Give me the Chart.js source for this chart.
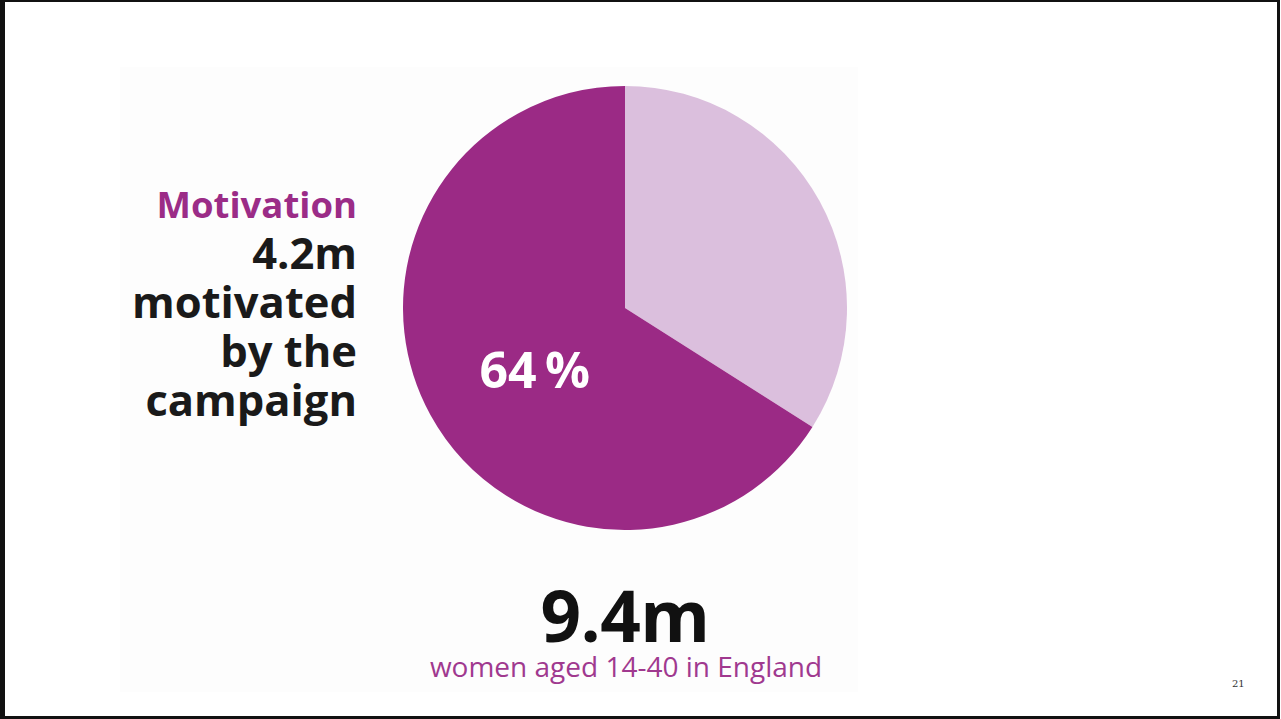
<!DOCTYPE html>
<html>
<head>
<meta charset="utf-8">
<script src="https://cdn.jsdelivr.net/npm/chart.js@4"></script>
<style>
  html, body { margin:0; padding:0; background:#fff; width:1281px; height:719px; overflow:hidden; }
  body { position:relative; font-family:"Open Sans", "Noto Sans", sans-serif; }
  #frame { position:absolute; left:0; top:0; width:1272px; height:714px; border-left:5px solid #111; border-top:2px solid #111; border-right:3px solid #111; border-bottom:3px solid #111; }
  #panel { position:absolute; left:120px; top:67px; width:738px; height:625px; background:#fdfdfd; }
  #chartBox { position:absolute; left:403px; top:86px; width:444px; height:444px; }
  .left { position:absolute; left:0; width:357px; text-align:right; font-weight:700; }
  #motiv { top:180px; font-size:36.5px; color:#9b2c87; line-height:48px; }
  #lines { top:228px; font-size:43.5px; color:#1a1a1a; line-height:49px; }
  #total { position:absolute; left:400px; width:450px; text-align:center; top:570px; font-size:71px; font-weight:700; color:#111; line-height:90px; letter-spacing:-0.5px; }
  #sub { position:absolute; left:400px; width:452px; text-align:center; top:647px; font-size:28px; color:#a0398f; line-height:38px; }
  #page { position:absolute; left:1232px; top:678px; font-family:"DejaVu Serif", "Liberation Serif", serif; font-size:10px; color:#333; }
</style>
</head>
<body>
<div id="frame"></div>
<div id="panel"></div>
<div class="left" id="motiv">Motivation</div>
<div class="left" id="lines">4.2m<br>motivated<br>by the<br>campaign</div>
<div id="chartBox"><canvas id="c"></canvas></div>
<div id="total">9.4m</div>
<div id="sub">women aged 14-40 in England</div>
<div id="page">21</div>
<script>
const categories = ["Not motivated", "Motivated by the campaign"];
const shares = [34, 66];
const sliceColors = ["#dbbfdd", "#9b2a85"];
const sliceLabels = ["", "64\u2009%"];

const labelPlugin = {
  id: "sliceLabel",
  afterDatasetsDraw(chart) {
    const ctx = chart.ctx;
    const meta = chart.getDatasetMeta(0);
    meta.data.forEach((arc, i) => {
      const txt = sliceLabels[i];
      if (!txt) return;
      const p = arc.getCenterPoint();
      ctx.save();
      ctx.fillStyle = "#ffffff";
      ctx.font = "700 50px 'Open Sans', sans-serif";
      ctx.textAlign = "center";
      ctx.textBaseline = "middle";
      ctx.fillText(txt, p.x + 7, p.y + 12);
      ctx.restore();
    });
  }
};

new Chart(document.getElementById("c"), {
  type: "pie",
  data: {
    labels: categories,
    datasets: [{ data: shares, backgroundColor: sliceColors, borderWidth: 0 }]
  },
  options: {
    responsive: true,
    maintainAspectRatio: false,
    animation: false,
    layout: { padding: 0 },
    plugins: { legend: { display: false }, tooltip: { enabled: false } }
  },
  plugins: [labelPlugin]
});
</script>
</body>
</html>
